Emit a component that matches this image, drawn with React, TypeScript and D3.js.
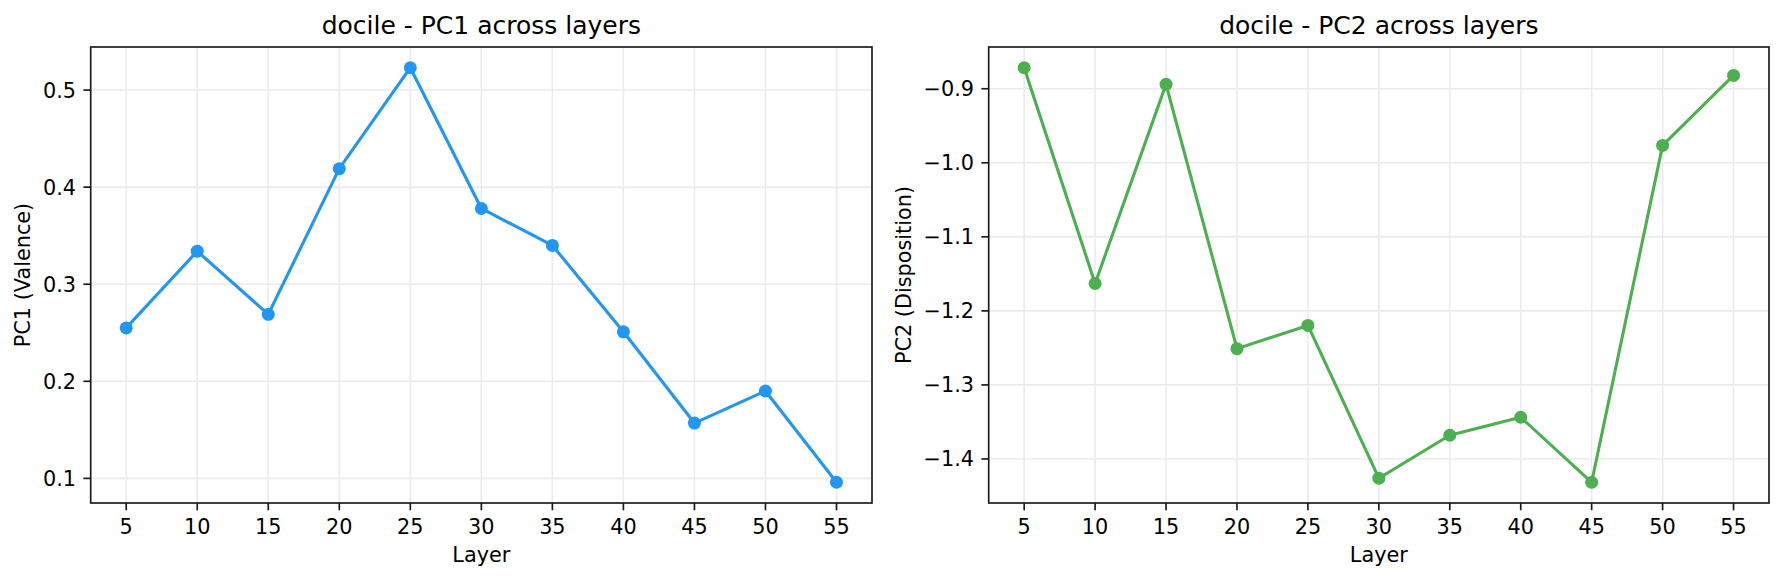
import React from "react";
import * as d3 from "d3";

const layers = [5, 10, 15, 20, 25, 30, 35, 40, 45, 50, 55];
const pc1Values = [0.255, 0.334, 0.269, 0.419, 0.523, 0.378, 0.340, 0.251, 0.157, 0.190, 0.096];
const pc2Values = [-0.8716, -1.163, -0.894, -1.251, -1.2197, -1.426, -1.368, -1.3437, -1.4315, -0.9765, -0.882];
const pc1Ticks = [0.1, 0.2, 0.3, 0.4, 0.5];
const pc2Ticks = [-1.4, -1.3, -1.2, -1.1, -1.0, -0.9];
const xTicks = [5, 10, 15, 20, 25, 30, 35, 40, 45, 50, 55];

const W = 1784;
const H = 581;
const FONT = "'DejaVu Sans', sans-serif";

type PanelProps = {
  left: number;
  right: number;
  top: number;
  bottom: number;
  values: number[];
  yTicks: number[];
  color: string;
  title: string;
  ylabel: string;
  ylabelX: number;
};

function fmt(v: number) {
  const s = Math.abs(v).toFixed(1);
  return v < 0 ? "\u2212" + s : s;
}

function Panel({ left, right, top, bottom, values, yTicks, color, title, ylabel, ylabelX }: PanelProps) {
  const xMin = d3.min(layers)!;
  const xMax = d3.max(layers)!;
  const xm = (xMax - xMin) * 0.05;
  const x = d3.scaleLinear().domain([xMin - xm, xMax + xm]).range([left, right]);
  const yMin = d3.min(values)!;
  const yMax = d3.max(values)!;
  const ym = (yMax - yMin) * 0.05;
  const y = d3.scaleLinear().domain([yMin - ym, yMax + ym]).range([bottom, top]);
  const pts = layers.map((l, i) => [l, values[i]] as [number, number]);
  const line = d3
    .line<[number, number]>()
    .x((d) => x(d[0]))
    .y((d) => y(d[1]));
  const tickLen = 7.3;
  const gridColor = "#ebebeb";
  const cx = (left + right) / 2;
  return (
    <g>
      {xTicks.map((t) => (
        <line key={"gx" + t} x1={x(t)} x2={x(t)} y1={top} y2={bottom} stroke={gridColor} strokeWidth={1.6} />
      ))}
      {yTicks.map((t) => (
        <line key={"gy" + t} x1={left} x2={right} y1={y(t)} y2={y(t)} stroke={gridColor} strokeWidth={1.6} />
      ))}
      <path d={line(pts) || ""} fill="none" stroke={color} strokeWidth={3.1} strokeLinejoin="round" />
      {pts.map((p, i) => (
        <circle key={i} cx={x(p[0])} cy={y(p[1])} r={6.5} fill={color} />
      ))}
      <rect x={left} y={top} width={right - left} height={bottom - top} fill="none" stroke="#1a1a1a" strokeWidth={1.67} />
      {xTicks.map((t) => (
        <g key={"tx" + t}>
          <line x1={x(t)} x2={x(t)} y1={bottom} y2={bottom + tickLen} stroke="#1a1a1a" strokeWidth={1.67} />
          <text x={x(t)} y={533.5} textAnchor="middle" fontFamily={FONT} fontSize={20.8} fill="#000">
            {t}
          </text>
        </g>
      ))}
      {yTicks.map((t) => (
        <g key={"ty" + t}>
          <line x1={left - tickLen} x2={left} y1={y(t)} y2={y(t)} stroke="#1a1a1a" strokeWidth={1.67} />
          <text x={left - tickLen - 7.3} y={y(t)} dy="0.36em" textAnchor="end" fontFamily={FONT} fontSize={20.8} fill="#000">
            {fmt(t)}
          </text>
        </g>
      ))}
      <text x={cx} y={562} textAnchor="middle" fontFamily={FONT} fontSize={20.8} fill="#000">
        Layer
      </text>
      <text
        transform={`translate(${ylabelX},${(top + bottom) / 2}) rotate(-90)`}
        textAnchor="middle"
        fontFamily={FONT}
        fontSize={20.8}
        fill="#000"
      >
        {ylabel}
      </text>
      <text x={cx} y={34} textAnchor="middle" fontFamily={FONT} fontSize={25} fill="#000">
        {title}
      </text>
    </g>
  );
}

export default function App() {
  return (
    <svg
      width={W}
      height={H}
      viewBox={`0 0 ${W} ${H}`}
      style={{ position: "absolute", left: 0, top: 0, background: "#fff" }}
    >
      <rect x={0} y={0} width={W} height={H} fill="#fff" />
      <Panel
        left={90.7}
        right={872}
        top={47}
        bottom={503}
        values={pc1Values}
        yTicks={pc1Ticks}
        color="#2196F3"
        title="docile - PC1 across layers"
        ylabel="PC1 (Valence)"
        ylabelX={30}
      />
      <Panel
        left={988.7}
        right={1769}
        top={47}
        bottom={503}
        values={pc2Values}
        yTicks={pc2Ticks}
        color="#4CAF50"
        title="docile - PC2 across layers"
        ylabel="PC2 (Disposition)"
        ylabelX={911}
      />
    </svg>
  );
}
